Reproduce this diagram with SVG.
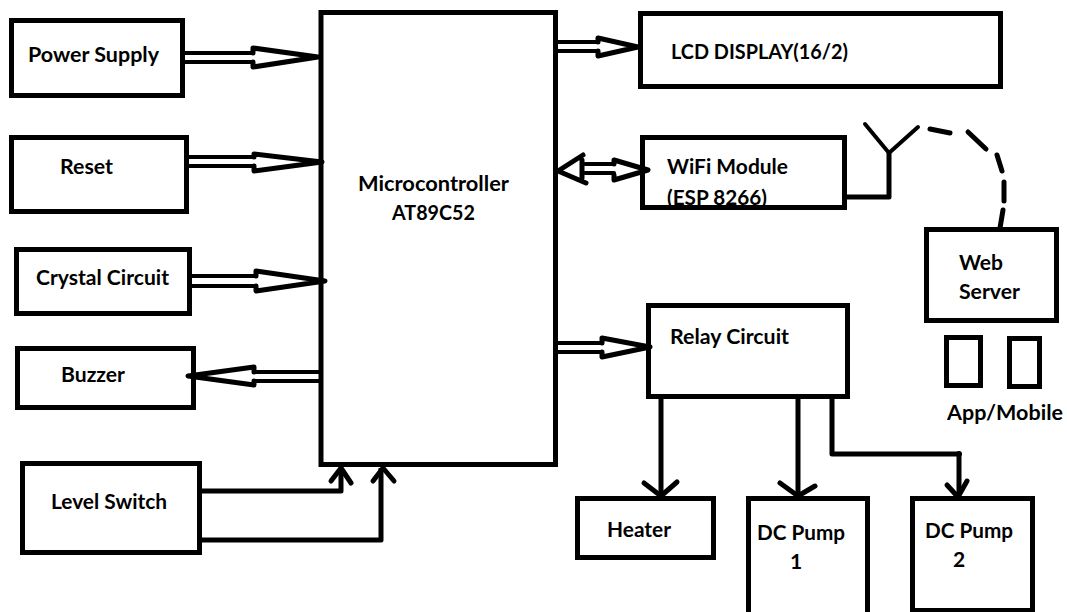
<svg xmlns="http://www.w3.org/2000/svg" width="1067" height="612" viewBox="0 0 1067 612">
<style>
rect.b{fill:none;stroke:#000;stroke-width:5}
path.c{fill:none;stroke:#000;stroke-width:5;stroke-linejoin:round}
path.d{fill:none;stroke:#000;stroke-width:4;stroke-linecap:round;stroke-linejoin:round}
path.h{fill:none;stroke:#000;stroke-width:5;stroke-linecap:round;stroke-linejoin:round}
text{font-family:"Lato","Open Sans",sans-serif;font-weight:700;font-size:21px;fill:#000}
</style>
<rect width="1067" height="612" fill="#fff"/>
<g id="connectors">
<path class="d" d="M185 53H253M185 62H253"/><path class="h" d="M253 53V48L318 57L253 67V62"/>
<path class="d" d="M187 157H254M187 166H254"/><path class="h" d="M254 157V154L322 162L254 171V166"/>
<path class="d" d="M191 276H256M191 286H256"/><path class="h" d="M256 276V271L325 281L256 291V286"/>
<path class="d" d="M320 372H254M320 381H254"/><path class="h" d="M254 372V367L188 376L254 385V381"/>
<path class="c" d="M201 491H341V468"/>
<path class="h" d="M331 481L341 468L351 483"/>
<path class="c" d="M197 540H381V468"/>
<path class="h" d="M373 481L383 468L394 481"/>
<path class="d" d="M558 42H598M558 51H598"/><path class="h" d="M598 42V38L638 47L598 56V51"/>
<path class="d" d="M585 164H614M585 173H614"/><path class="h" d="M614 164V160L648 170L614 180V175"/>
<path class="h" d="M583 155L558 171L586 183M582 160V178"/>
<path class="d" d="M558 343H602M558 352H602"/><path class="h" d="M602 343V338L650 347L602 357V352"/>
<path class="c" d="M847 197H889V153"/>
<path class="d" d="M865 124L889 153L918 127"/>
<path class="h" d="M930 129L950 133M968 132L986 149M997 155L1002 171M1004 182V201M1003 210L1000 228"/>
<path class="c" d="M661 398V494"/>
<path class="h" d="M644 483L661 496L677 482"/>
<path class="c" d="M798 398V494"/>
<path class="h" d="M780 483L798 496L815 486"/>
<path class="c" d="M832 398V454H959V494"/>
<circle cx="959" cy="454" r="3"/>
<path class="h" d="M947 485L958 497L967 481"/>
</g>
<g id="power"><rect class="b" x="11.500" y="20.500" width="171" height="75"/><text x="28" y="62" textLength="131" lengthAdjust="spacingAndGlyphs">Power Supply</text></g>
<g id="reset"><rect class="b" x="11.500" y="137.500" width="175" height="74"/><text x="60" y="174" textLength="53" lengthAdjust="spacingAndGlyphs">Reset</text></g>
<g id="crystal"><rect class="b" x="16.500" y="249.500" width="173" height="64"/><text x="36" y="285" textLength="133" lengthAdjust="spacingAndGlyphs">Crystal Circuit</text></g>
<g id="buzzer"><rect class="b" x="17.500" y="348.500" width="176" height="59"/><text x="61" y="382" textLength="64" lengthAdjust="spacingAndGlyphs">Buzzer</text></g>
<g id="level"><rect class="b" x="22.500" y="463.500" width="177" height="89"/><text x="51" y="509" textLength="116" lengthAdjust="spacingAndGlyphs">Level Switch</text></g>
<g id="mcu"><rect class="b" x="321" y="12.500" width="234.500" height="452"/><text x="358" y="191" textLength="151" lengthAdjust="spacingAndGlyphs">Microcontroller</text><text x="392" y="220" textLength="83" lengthAdjust="spacingAndGlyphs">AT89C52</text></g>
<g id="lcd"><rect class="b" x="640.500" y="13.500" width="360" height="73"/><text x="671" y="59" textLength="177" lengthAdjust="spacingAndGlyphs">LCD DISPLAY(16/2)</text></g>
<g id="wifi"><rect class="b" x="642.500" y="137.500" width="202" height="70"/><text x="667" y="174" textLength="121" lengthAdjust="spacingAndGlyphs">WiFi Module</text><text x="667" y="205" textLength="100" lengthAdjust="spacingAndGlyphs">(ESP 8266)</text></g>
<g id="server"><rect class="b" x="926.500" y="229.500" width="130" height="91"/><text x="959" y="270" textLength="44" lengthAdjust="spacingAndGlyphs">Web</text><text x="959" y="299" textLength="61" lengthAdjust="spacingAndGlyphs">Server</text></g>
<g id="relay"><rect class="b" x="648.500" y="305.500" width="199" height="91"/><text x="670" y="344" textLength="119" lengthAdjust="spacingAndGlyphs">Relay Circuit</text></g>
<g id="phone1"><rect class="b" x="946.500" y="337.500" width="34" height="48"/></g>
<g id="phone2"><rect class="b" x="1009.500" y="338.500" width="30" height="48"/></g>
<text id="app" x="947" y="420" textLength="116" lengthAdjust="spacingAndGlyphs">App/Mobile</text>
<g id="heater"><rect class="b" x="577.500" y="498.500" width="136" height="59"/><text x="607" y="537" textLength="64" lengthAdjust="spacingAndGlyphs">Heater</text></g>
<g id="pump1"><rect class="b" x="748.500" y="498.500" width="119" height="120"/><text x="757" y="540" textLength="88" lengthAdjust="spacingAndGlyphs">DC Pump</text><text x="790" y="569">1</text></g>
<g id="pump2"><rect class="b" x="912.500" y="498.500" width="120" height="112"/><text x="925" y="538" textLength="88" lengthAdjust="spacingAndGlyphs">DC Pump</text><text x="953" y="567">2</text></g>
</svg>
